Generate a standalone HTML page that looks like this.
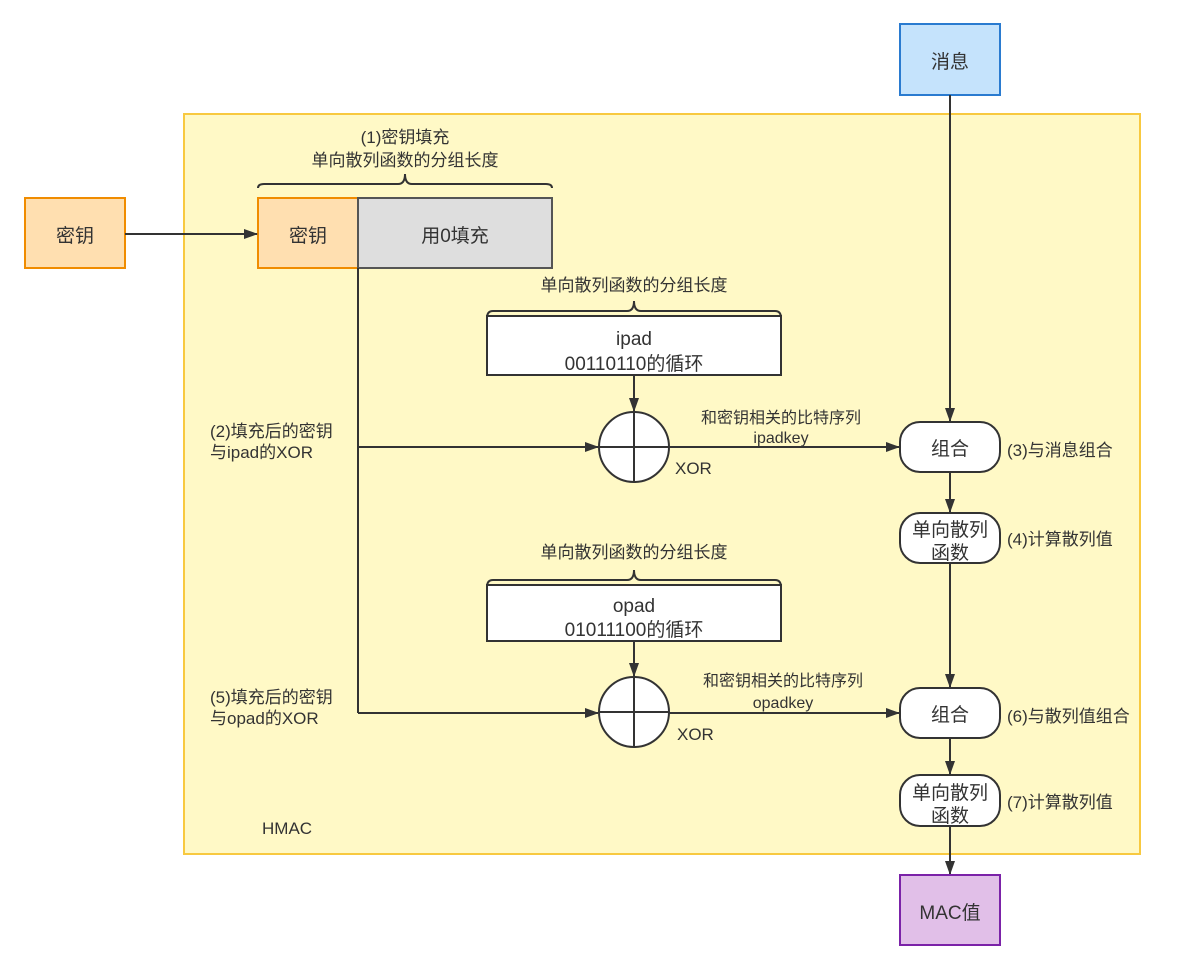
<!DOCTYPE html>
<html><head><meta charset="utf-8"><style>
html,body{margin:0;padding:0;background:#fff}
svg text{font-family:"Liberation Sans","Noto Sans CJK SC",sans-serif;fill:#333}
</style></head><body>
<svg width="1182" height="970" viewBox="0 0 1182 970" xmlns="http://www.w3.org/2000/svg">
<defs><marker id="a" markerWidth="14" markerHeight="12" refX="13" refY="6" orient="auto" markerUnits="userSpaceOnUse"><path d="M0,1 L14,6 L0,11 Z" fill="#333"/></marker></defs>
<rect x="184" y="114" width="956" height="740" fill="#fff9c6" stroke="#f8c940" stroke-width="2"/>
<rect x="900" y="24" width="100" height="71" fill="#c5e3fc" stroke="#2a7bd0" stroke-width="2"/>
<text x="950" y="68" font-size="19" text-anchor="middle">消息</text>
<rect x="25" y="198" width="100" height="70" fill="#ffdfb0" stroke="#f08c00" stroke-width="2"/>
<text x="75" y="242" font-size="19" text-anchor="middle">密钥</text>
<rect x="258" y="198" width="100" height="70" fill="#ffdfb0" stroke="#f08c00" stroke-width="2"/>
<text x="308" y="242" font-size="19" text-anchor="middle">密钥</text>
<rect x="358" y="198" width="194" height="70" fill="#dedede" stroke="#555" stroke-width="2"/>
<text x="455" y="242" font-size="19" text-anchor="middle">用0填充</text>
<path d="M258,188 Q258,184 264,184 L398,184 Q405,184 405,174 Q405,184 412,184 L546,184 Q552,184 552,188" fill="none" stroke="#333" stroke-width="2"/>
<text x="405" y="143" font-size="17" text-anchor="middle">(1)密钥填充</text>
<text x="405" y="166" font-size="17" text-anchor="middle">单向散列函数的分组长度</text>
<line x1="125" y1="234" x2="257" y2="234" stroke="#333" stroke-width="2" marker-end="url(#a)"/>
<path d="M487,318 Q487,311 493,311 L627,311 Q634,311 634,301 Q634,311 641,311 L775,311 Q781,311 781,318" fill="none" stroke="#333" stroke-width="2"/>
<text x="634" y="291" font-size="17" text-anchor="middle">单向散列函数的分组长度</text>
<rect x="487" y="316" width="294" height="59" fill="#fff" stroke="#333" stroke-width="2"/>
<text x="634" y="345" font-size="19" text-anchor="middle">ipad</text>
<text x="634" y="370" font-size="19" text-anchor="middle">00110110的循环</text>
<line x1="634" y1="375" x2="634" y2="411" stroke="#333" stroke-width="2" marker-end="url(#a)"/>
<circle cx="634" cy="447" r="35" fill="#fff" stroke="#333" stroke-width="2"/>
<line x1="599" y1="447" x2="669" y2="447" stroke="#333" stroke-width="2"/>
<line x1="634" y1="412" x2="634" y2="482" stroke="#333" stroke-width="2"/>
<path d="M358,268 L358,713" fill="none" stroke="#333" stroke-width="2"/>
<line x1="358" y1="447" x2="598" y2="447" stroke="#333" stroke-width="2" marker-end="url(#a)"/>
<line x1="669" y1="447" x2="899" y2="447" stroke="#333" stroke-width="2" marker-end="url(#a)"/>
<text x="675" y="474" font-size="17">XOR</text>
<text x="781" y="423" font-size="16" text-anchor="middle">和密钥相关的比特序列</text>
<text x="781" y="443" font-size="16" text-anchor="middle">ipadkey</text>
<text x="210" y="437" font-size="17">(2)填充后的密钥</text>
<text x="210" y="458" font-size="17">与ipad的XOR</text>
<line x1="950" y1="95" x2="950" y2="421" stroke="#333" stroke-width="2" marker-end="url(#a)"/>
<rect x="900" y="422" width="100" height="50" rx="20" fill="#fff" stroke="#333" stroke-width="2"/>
<text x="950" y="455" font-size="19" text-anchor="middle">组合</text>
<text x="1007" y="456" font-size="17">(3)与消息组合</text>
<line x1="950" y1="472" x2="950" y2="512" stroke="#333" stroke-width="2" marker-end="url(#a)"/>
<rect x="900" y="513" width="100" height="50" rx="20" fill="#fff" stroke="#333" stroke-width="2"/>
<text x="950" y="536" font-size="19" text-anchor="middle">单向散列</text>
<text x="950" y="559" font-size="19" text-anchor="middle">函数</text>
<text x="1007" y="545" font-size="17">(4)计算散列值</text>
<line x1="950" y1="563" x2="950" y2="687" stroke="#333" stroke-width="2" marker-end="url(#a)"/>
<path d="M487,587 Q487,580 493,580 L627,580 Q634,580 634,570 Q634,580 641,580 L775,580 Q781,580 781,587" fill="none" stroke="#333" stroke-width="2"/>
<text x="634" y="558" font-size="17" text-anchor="middle">单向散列函数的分组长度</text>
<rect x="487" y="585" width="294" height="56" fill="#fff" stroke="#333" stroke-width="2"/>
<text x="634" y="612" font-size="19" text-anchor="middle">opad</text>
<text x="634" y="636" font-size="19" text-anchor="middle">01011100的循环</text>
<line x1="634" y1="641" x2="634" y2="676" stroke="#333" stroke-width="2" marker-end="url(#a)"/>
<circle cx="634" cy="712" r="35" fill="#fff" stroke="#333" stroke-width="2"/>
<line x1="599" y1="712" x2="669" y2="712" stroke="#333" stroke-width="2"/>
<line x1="634" y1="677" x2="634" y2="747" stroke="#333" stroke-width="2"/>
<line x1="358" y1="713" x2="598" y2="713" stroke="#333" stroke-width="2" marker-end="url(#a)"/>
<line x1="669" y1="713" x2="899" y2="713" stroke="#333" stroke-width="2" marker-end="url(#a)"/>
<text x="677" y="740" font-size="17">XOR</text>
<text x="783" y="686" font-size="16" text-anchor="middle">和密钥相关的比特序列</text>
<text x="783" y="708" font-size="16" text-anchor="middle">opadkey</text>
<text x="210" y="703" font-size="17">(5)填充后的密钥</text>
<text x="210" y="724" font-size="17">与opad的XOR</text>
<rect x="900" y="688" width="100" height="50" rx="20" fill="#fff" stroke="#333" stroke-width="2"/>
<text x="950" y="721" font-size="19" text-anchor="middle">组合</text>
<text x="1007" y="722" font-size="17">(6)与散列值组合</text>
<line x1="950" y1="738" x2="950" y2="774" stroke="#333" stroke-width="2" marker-end="url(#a)"/>
<rect x="900" y="775" width="100" height="51" rx="20" fill="#fff" stroke="#333" stroke-width="2"/>
<text x="950" y="799" font-size="19" text-anchor="middle">单向散列</text>
<text x="950" y="822" font-size="19" text-anchor="middle">函数</text>
<text x="1007" y="808" font-size="17">(7)计算散列值</text>
<line x1="950" y1="826" x2="950" y2="874" stroke="#333" stroke-width="2" marker-end="url(#a)"/>
<rect x="900" y="875" width="100" height="70" fill="#e1bfe8" stroke="#7b22a8" stroke-width="2"/>
<text x="950" y="919" font-size="19" text-anchor="middle">MAC值</text>
<text x="262" y="834" font-size="17">HMAC</text>
</svg>
</body></html>
